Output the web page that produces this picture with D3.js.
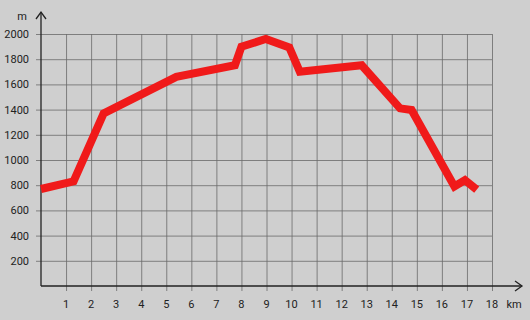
<!DOCTYPE html>
<html><head><meta charset="utf-8">
<script src="https://cdn.jsdelivr.net/npm/d3@7"></script>
<style>
html,body{margin:0;padding:0;background:#cfcfcf;}
text{font-family:Roboto,"Noto Sans",sans-serif;font-size:11px;fill:#222;}
</style></head>
<body>
<svg id="c" width="530" height="320"></svg>
<script>
const distKm = [0, 1.3, 2.5, 5.4, 7.74, 8.0, 8.97, 9.91, 10.33, 12.8, 14.33, 14.79, 16.5, 16.92, 17.39];
const elevM = [770, 830, 1370, 1660, 1752, 1900, 1960, 1894, 1700, 1752, 1410, 1397, 790, 841, 765];
const xTicks = [1,2,3,4,5,6,7,8,9,10,11,12,13,14,15,16,17,18];
const yTicks = [200,400,600,800,1000,1200,1400,1600,1800,2000];

const svg = d3.select("#c");
const x = d3.scaleLinear().domain([0,18]).range([41,492]);
const y = d3.scaleLinear().domain([0,2000]).range([286,34]);

// grid
const g = svg.append("g");
g.selectAll("line.v").data(xTicks).join("line")
  .attr("x1",d=>x(d)+0.5).attr("x2",d=>x(d)+0.5)
  .attr("y1",y(2000)).attr("y2",y(0)+5)
  .attr("stroke","#6a6a6a").attr("stroke-width",0.8);
g.selectAll("line.h").data(yTicks).join("line")
  .attr("x1",x(0)-5).attr("x2",x(18))
  .attr("y1",d=>y(d)+0.5).attr("y2",d=>y(d)+0.5)
  .attr("stroke","#6a6a6a").attr("stroke-width",0.8);

// axes
svg.append("line").attr("x1",x(0)).attr("x2",x(0)).attr("y1",y(0)).attr("y2",12)
  .attr("stroke","#222").attr("stroke-width",1.3);
svg.append("path").attr("d",`M${x(0)-5},${19} L${x(0)},${12} L${x(0)+5},${19}`)
  .attr("fill","none").attr("stroke","#222").attr("stroke-width",1.3);
svg.append("line").attr("x1",x(0)).attr("x2",522).attr("y1",y(0)).attr("y2",y(0))
  .attr("stroke","#222").attr("stroke-width",1.3);
svg.append("path").attr("d",`M515,${y(0)-5} L522,${y(0)} L515,${y(0)+5}`)
  .attr("fill","none").attr("stroke","#222").attr("stroke-width",1.3);

// labels
svg.selectAll("text.yl").data(yTicks).join("text")
  .attr("x",29).attr("y",d=>y(d)+4).attr("text-anchor","end").text(d=>d);
svg.selectAll("text.xl").data(xTicks).join("text")
  .attr("x",d=>x(d)).attr("y",308).attr("text-anchor","middle").text(d=>d);
svg.append("text").attr("x",22).attr("y",20).attr("text-anchor","middle").text("m");
svg.append("text").attr("x",514).attr("y",308).attr("text-anchor","middle").text("km");

// profile
const line = d3.line().x((d,i)=>x(distKm[i])).y(d=>y(d));
svg.append("path").attr("d",line(elevM))
  .attr("fill","none").attr("stroke","#f01a1a").attr("stroke-width",8)
  .attr("stroke-linejoin","miter").attr("stroke-linecap","butt");
</script>
</body></html>
